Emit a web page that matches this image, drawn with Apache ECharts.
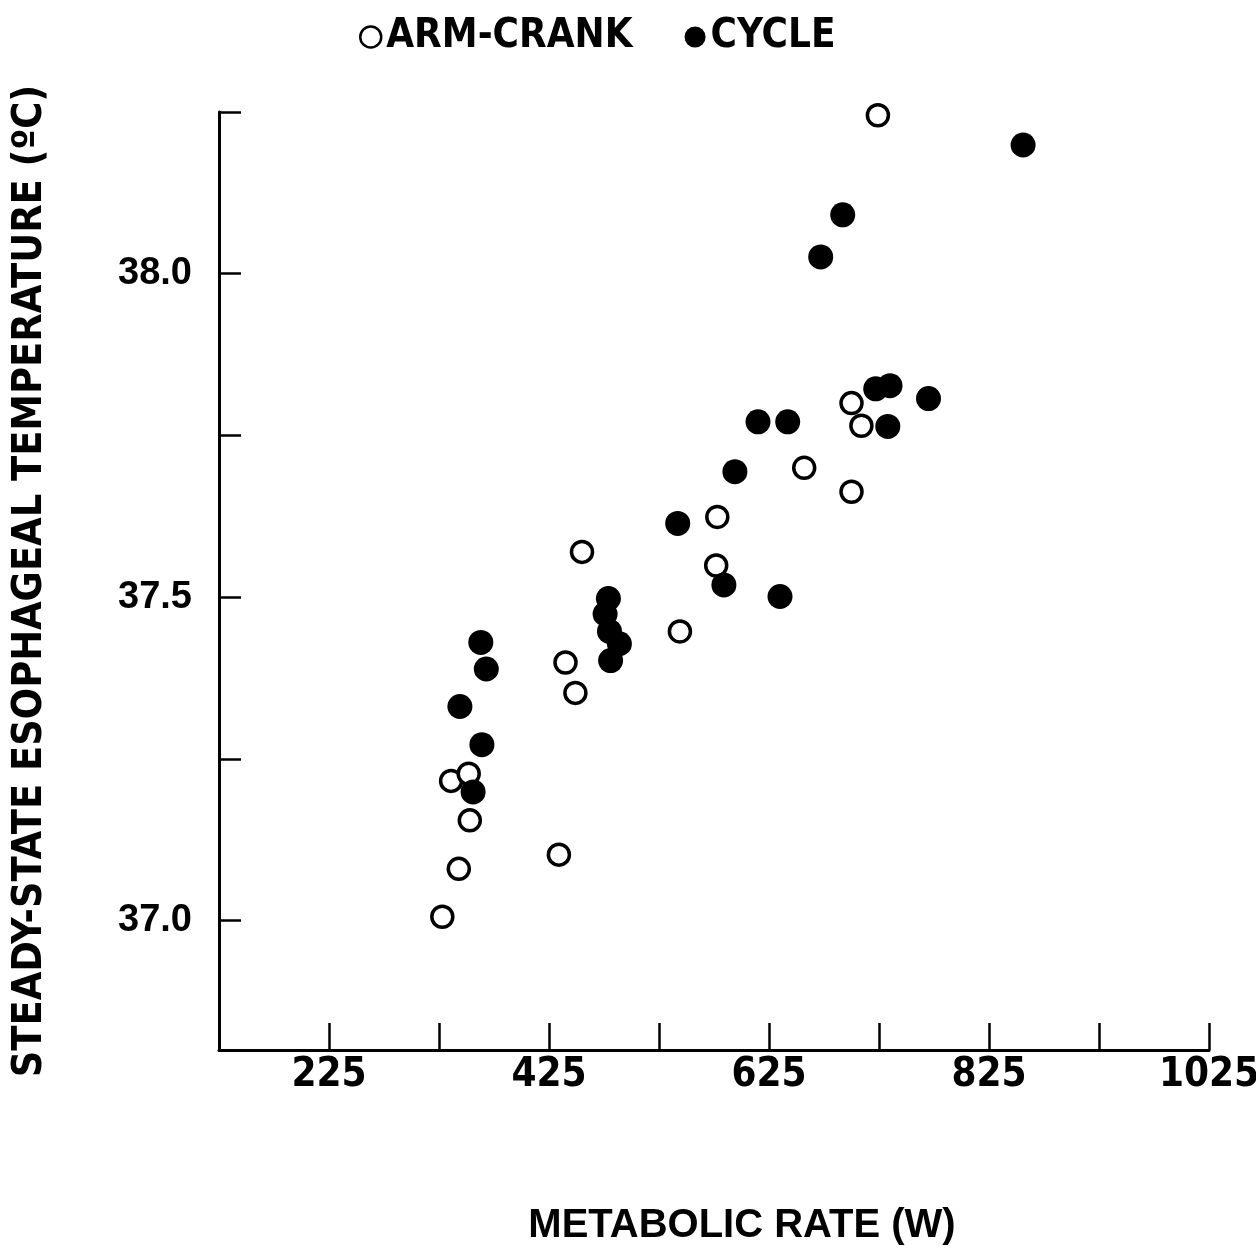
<!DOCTYPE html>
<html>
<head>
<meta charset="utf-8">
<script src="https://cdn.jsdelivr.net/npm/echarts@6/dist/echarts.min.js"></script>
<style>
  html, body { margin: 0; padding: 0; background: #ffffff; }
  #chart { width: 1256px; height: 1250px; }
</style>
</head>
<body>
<div id="chart"></div>
<script>
// Metabolic rate (W) and steady-state esophageal temperature (°C)
const armCrankRate = [724, 700, 709, 657, 700, 578, 577, 455, 544, 440, 449, 336, 352, 353, 343, 328, 434];
const armCrankTemp = [38.245, 37.80, 37.765, 37.70, 37.663, 37.624, 37.549, 37.570, 37.447, 37.399, 37.352, 37.216, 37.227, 37.155, 37.080, 37.006, 37.102];

const cycleRate = [856, 692, 672, 722, 735, 770, 733, 615, 642, 594, 542, 584, 635, 479, 476, 480, 489, 481, 363, 368, 344, 364, 356];
const cycleTemp = [38.199, 38.091, 38.026, 37.822, 37.827, 37.807, 37.764, 37.771, 37.771, 37.694, 37.614, 37.519, 37.501, 37.498, 37.474, 37.447, 37.428, 37.402, 37.430, 37.389, 37.331, 37.272, 37.199];

const xTicks = [225, 325, 425, 525, 625, 725, 825, 925, 1025];
const xLabels = [225, 425, 625, 825, 1025];
const yTicks = [37.0, 37.25, 37.5, 37.75, 38.0, 38.25];
const yLabels = [37.0, 37.5, 38.0];

const zip = (xs, ys) => xs.map((x, i) => [x, ys[i]]);

const narrow = '"Liberation Sans Narrow", "DejaVu Sans Condensed", "Liberation Sans", sans-serif';
const wide = '"Liberation Sans", Arial, sans-serif';

const chart = echarts.init(document.getElementById('chart'), null, { renderer: 'canvas' });

chart.setOption({
  backgroundColor: '#ffffff',
  animation: false,
  legend: {
    left: 354,
    top: 12,
    itemGap: 52,
    itemWidth: 21,
    itemHeight: 21,
    textStyle: { fontFamily: narrow, fontWeight: 'bold', fontSize: 40, color: '#000' },
    data: [
      { name: 'ARM-CRANK', icon: 'circle', itemStyle: { color: '#fff', borderColor: '#000', borderWidth: 2.5 } },
      { name: 'CYCLE', icon: 'circle', itemStyle: { color: '#000', borderWidth: 0 } }
    ]
  },
  grid: { left: 219, right: 47, top: 112, bottom: 200, containLabel: false, outerBoundsMode: 'none' },
  xAxis: {
    type: 'value',
    min: 125,
    max: 1025,
    name: 'METABOLIC RATE (W)',
    nameLocation: 'middle',
    nameGap: 156,
    nameTextStyle: { fontFamily: wide, fontWeight: 'bold', fontSize: 40, color: '#000', padding: [0, 0, 0, 56] },
    axisLine: { lineStyle: { color: '#000', width: 3 } },
    axisTick: { inside: true, length: 27, lineStyle: { color: '#000', width: 2.5 }, customValues: xTicks },
    axisLabel: {
      margin: 6, fontFamily: narrow, fontWeight: 'bold', fontSize: 40, color: '#000',
      customValues: xLabels,
      formatter: v => String(v)
    },
    splitLine: { show: false }
  },
  yAxis: {
    type: 'value',
    min: 36.8,
    max: 38.25,
    name: 'STEADY-STATE ESOPHAGEAL TEMPERATURE (ºC)',
    nameLocation: 'middle',
    nameRotate: 90,
    nameGap: 168,
    nameTextStyle: { fontFamily: narrow, fontWeight: 'bold', fontSize: 41, color: '#000' },
    axisLine: { lineStyle: { color: '#000', width: 3 } },
    axisTick: { inside: true, length: 22, lineStyle: { color: '#000', width: 2.5 }, customValues: yTicks },
    axisLabel: {
      margin: 27, fontFamily: wide, fontWeight: 'bold', fontSize: 38, color: '#000',
      customValues: yLabels,
      formatter: v => v.toFixed(1)
    },
    splitLine: { show: false }
  },
  series: [
    {
      name: 'ARM-CRANK',
      type: 'scatter',
      symbol: 'circle',
      symbolSize: 21,
      data: zip(armCrankRate, armCrankTemp),
      itemStyle: { color: '#fff', borderColor: '#000', borderWidth: 3.5, opacity: 1 },
      z: 2
    },
    {
      name: 'CYCLE',
      type: 'scatter',
      symbol: 'circle',
      symbolSize: 25,
      data: zip(cycleRate, cycleTemp),
      itemStyle: { color: '#000', opacity: 1 },
      z: 3
    }
  ]
});
</script>
</body>
</html>
